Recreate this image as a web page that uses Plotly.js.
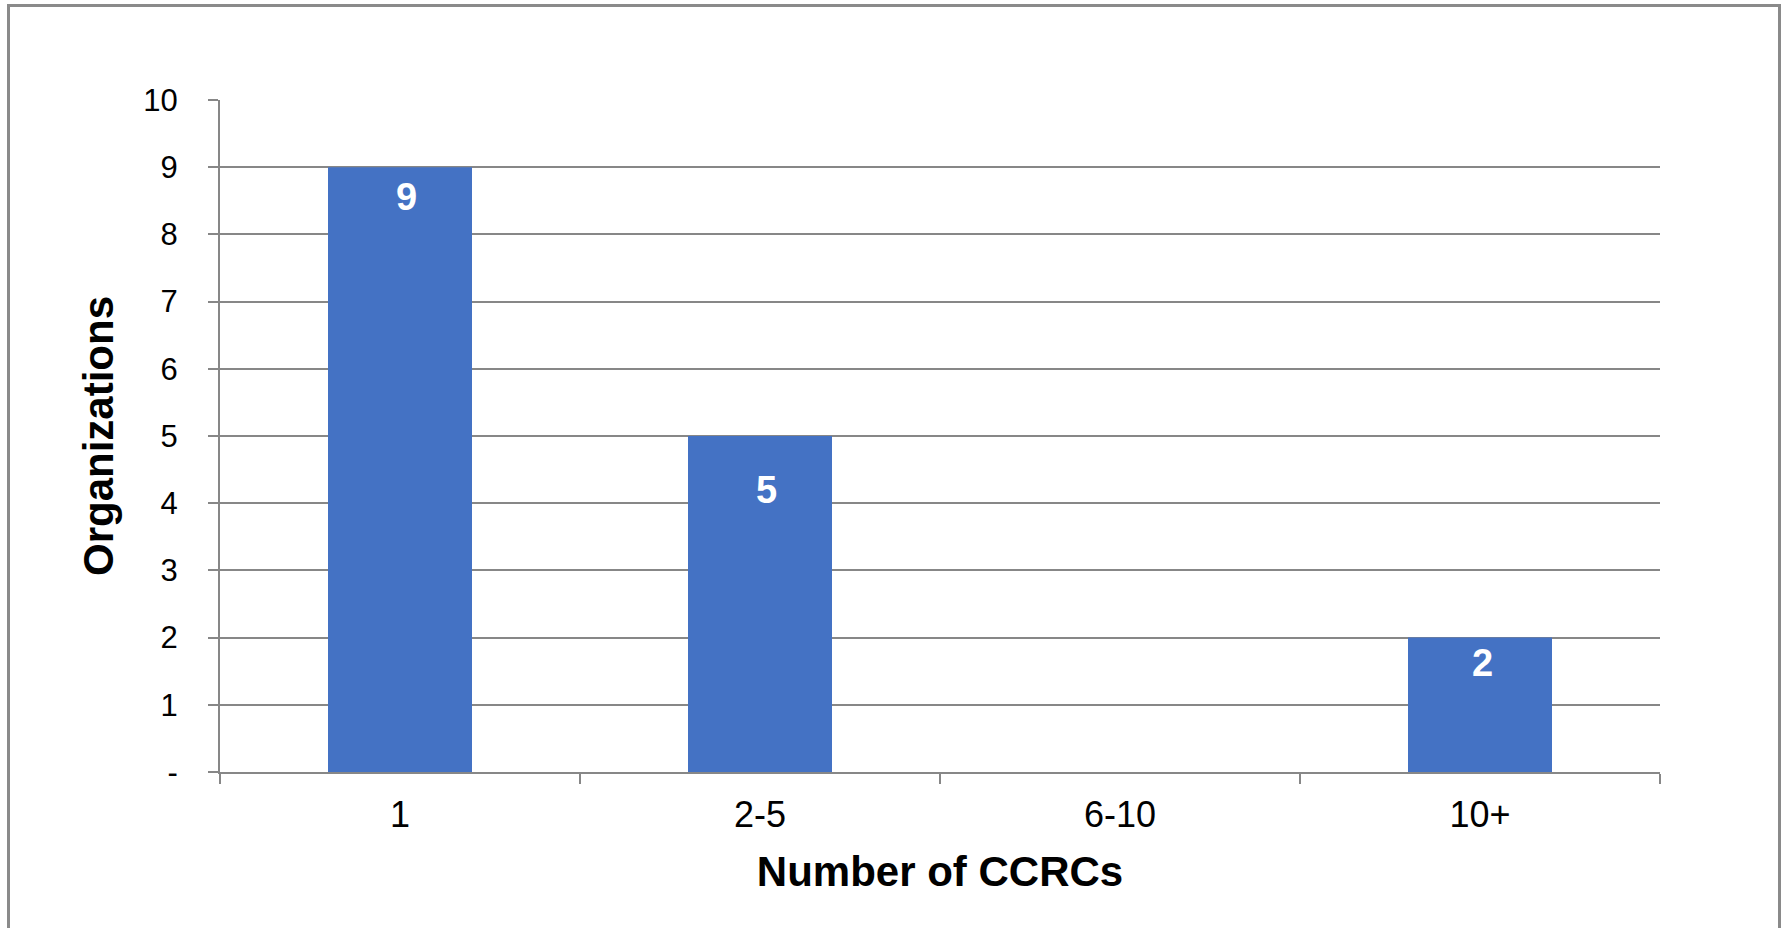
<!DOCTYPE html>
<html>
<head>
<meta charset="utf-8">
<script src="https://cdn.plot.ly/plotly-3.0.1.min.js"></script>
<style>
  html, body { margin: 0; padding: 0; background: #ffffff; overflow: hidden; }
  #frame { position: absolute; left: 7px; top: 4px; width: 1768px; height: 940px; border: 3px solid #8a8a8a; box-sizing: content-box; }
  #chart { position: absolute; left: 0; top: 0; width: 1785px; height: 928px; }
</style>
</head>
<body>
<div id="frame"></div>
<div id="chart"></div>
<script>
// ---- data ----
const categories = ['1', '2-5', '6-10', '10+'];
const organizations = [9, 5, 0, 2];
const yTickValues = [0, 1, 2, 3, 4, 5, 6, 7, 8, 9, 10];
const yTickLabels = ['-', '1', '2', '3', '4', '5', '6', '7', '8', '9', '10'];
const xTitle = 'Number of CCRCs';
const yTitle = 'Organizations';

// ---- styling (label pixel offsets from bar top) ----
const labelYShift = [-30, -54, 0, -25];
const labelXShift = [6, 6, 0, 2];

const font = '"Liberation Sans", Arial, sans-serif';
const grey = '#878787';

const trace = {
  type: 'bar',
  x: categories,
  y: organizations,
  width: 0.4,
  marker: { color: '#4472C4', line: { width: 0 } },
  hoverinfo: 'skip'
};

const annotations = [];
categories.forEach((c, i) => {
  if (organizations[i] > 0) {
    annotations.push({
      x: i, y: organizations[i], xref: 'x', yref: 'y',
      text: String(organizations[i]),
      showarrow: false,
      yanchor: 'middle', xanchor: 'center',
      yshift: labelYShift[i], xshift: labelXShift[i],
      font: { family: font, size: 38, color: '#ffffff', weight: 'bold' }
    });
  }
});

const layout = {
  width: 1785, height: 928,
  margin: { l: 220, r: 125, t: 100, b: 156, autoexpand: false },
  paper_bgcolor: 'rgba(0,0,0,0)',
  plot_bgcolor: 'rgba(0,0,0,0)',
  showlegend: false,
  font: { family: font, color: '#000000' },
  xaxis: {
    type: 'category',
    automargin: false,
    showline: true, linecolor: grey, linewidth: 2,
    ticks: 'outside', tickson: 'boundaries', ticklen: 10, tickwidth: 2, tickcolor: grey,
    showgrid: false, zeroline: false,
    ticklabelstandoff: 10,
    tickfont: { family: font, size: 36, color: '#000000' },
    title: { text: xTitle, font: { family: font, size: 42, color: '#000000', weight: 'bold' }, standoff: 22 }
  },
  yaxis: {
    range: [0, 10],
    automargin: false,
    tickmode: 'array', tickvals: yTickValues, ticktext: yTickLabels,
    showline: true, linecolor: grey, linewidth: 2,
    ticks: 'outside', ticklen: 10, tickwidth: 2, tickcolor: grey,
    showgrid: true, gridcolor: grey, gridwidth: 2,
    zeroline: false,
    ticklabelstandoff: 24,
    tickfont: { family: font, size: 31, color: '#000000' },
    title: { text: yTitle, font: { family: font, size: 42, color: '#000000', weight: 'bold' }, standoff: 17 }
  },
  annotations: annotations
};

Plotly.newPlot('chart', [trace], layout, { displayModeBar: false, staticPlot: true });
</script>
</body>
</html>
